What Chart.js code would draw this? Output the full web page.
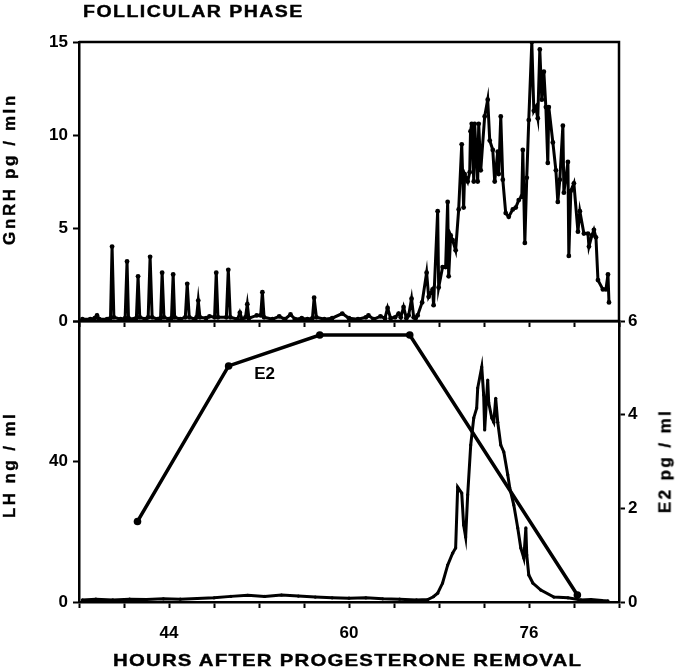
<!DOCTYPE html>
<html>
<head>
<meta charset="utf-8">
<title>Follicular phase</title>
<script src="https://cdn.jsdelivr.net/npm/chart.js@4"></script>
<style>
  body { margin: 0; background: #fff; }
  #wrap { position: relative; width: 680px; height: 670px; font-family: "Liberation Sans", Arial, sans-serif; font-weight: bold; color: #000; }
  canvas { position: absolute; left: 0; }
  .lbl { position: absolute; white-space: pre; line-height: 1; -webkit-text-stroke: 0.4px #000; }
  .rot { transform: translate(-50%, -50%) rotate(-90deg); }
</style>
</head>
<body>
<div id="wrap">
  <canvas id="topChart" width="680" height="340" style="top:0"></canvas>
  <canvas id="bottomChart" width="680" height="370" style="top:300px"></canvas>
  <div class="lbl" style="left:83px;top:4px;font-size:16px;letter-spacing:1.2px;transform:scaleX(1.22);transform-origin:left top">FOLLICULAR PHASE</div>
  <div class="lbl rot" style="left:9px;top:169px;font-size:17px;letter-spacing:2.6px">GnRH pg / mln</div>
  <div class="lbl rot" style="left:9px;top:465px;font-size:17px;letter-spacing:2.4px">LH ng / ml</div>
  <div class="lbl rot" style="left:665px;top:461px;font-size:17px;letter-spacing:2.4px">E2 pg / ml</div>
  <div class="lbl" style="left:113px;top:652px;font-size:17px;letter-spacing:1px;transform:scaleX(1.2);transform-origin:left top">HOURS AFTER PROGESTERONE REMOVAL</div>
</div>

<script>
// hours after progesterone removal
var gnrhHours = [
  36.3, 37.0, 37.4, 37.6, 37.8, 38.5, 38.8, 38.94, 39.1, 39.7,
  40.1, 40.27, 40.4, 40.9, 41.1, 41.25, 41.4, 41.9, 42.15, 42.32,
  42.5, 43.0, 43.25, 43.39, 43.55, 44.0, 44.22, 44.37, 44.5, 45.0,
  45.45, 45.62, 45.8, 46.3, 46.45, 46.6, 46.75, 47.3, 47.6, 48.05,
  48.2, 48.35, 49.1, 49.27, 49.45, 50.1, 50.3, 50.5, 50.8, 50.96,
  51.1, 51.8, 52.15, 52.3, 52.45, 53.2, 53.8, 54.3, 54.8, 55.2,
  55.8, 56.3, 56.75, 56.9, 57.1, 57.8, 58.5, 59.4, 60.0, 60.8,
  61.5, 61.73, 62.2, 62.8, 63.2, 63.43, 63.7, 64.1, 64.41, 64.6,
  64.85, 65.1, 65.3, 65.56, 65.75, 65.92, 66.1, 66.5, 66.9, 67.08,
  67.43, 67.52, 67.88, 67.97, 68.32, 68.59, 68.77, 68.86, 69.04, 69.21,
  69.48, 69.75, 70.02, 70.19, 70.28, 70.55, 70.73, 70.8, 70.91, 71.09,
  71.17, 71.44, 71.53, 71.71, 72.06, 72.33, 72.51, 72.78, 72.95, 73.22,
  73.31, 73.49, 73.67, 73.93, 74.2, 74.56, 74.82, 75.09, 75.36, 75.45,
  75.63, 75.8, 75.98, 76.25, 76.43, 76.6, 76.78, 76.96, 77.14, 77.32,
  77.5, 77.67, 77.76, 78.12, 78.39, 78.56, 78.74, 79.01, 79.1, 79.46,
  79.54, 79.72, 79.99, 80.35, 80.52, 80.88, 81.24, 81.33, 81.59, 81.77,
  81.95, 82.13, 82.57, 82.84, 83.02, 83.11
];
var gnrhValues = [
  0.1, 0.1, 0.15, 0.3, 0.1, 0.1, 0.15, 4.0, 0.2, 0.1,
  0.15, 3.2, 0.15, 0.1, 0.15, 2.4, 0.2, 0.1, 0.2, 3.45,
  0.2, 0.1, 0.15, 2.6, 0.2, 0.1, 0.15, 2.5, 0.2, 0.1,
  0.2, 2.0, 0.2, 0.1, 0.2, 1.1, 0.2, 0.15, 0.25, 0.2,
  2.6, 0.2, 0.2, 2.75, 0.2, 0.1, 0.45, 0.1, 0.2, 0.9,
  0.15, 0.3, 0.3, 1.55, 0.2, 0.1, 0.25, 0.1, 0.35, 0.1,
  0.15, 0.1, 0.15, 1.25, 0.2, 0.1, 0.15, 0.4, 0.15, 0.1,
  0.2, 0.3, 0.1, 0.25, 0.15, 0.7, 0.15, 0.2, 0.4, 0.2,
  0.75, 0.15, 0.3, 1.2, 0.2, 0.15, 0.3, 1.0, 2.6, 1.3,
  1.7, 0.85, 5.9, 1.8, 2.9, 2.9, 6.4, 2.4, 4.6, 4.35,
  3.8, 6.0, 9.5, 6.1, 7.9, 7.5, 8.0, 10.2, 10.6, 7.5,
  10.6, 7.5, 10.6, 8.1, 11.0, 11.9, 9.7, 9.2, 7.5, 9.1,
  7.9, 11.0, 7.6, 5.8, 5.6, 6.0, 6.1, 6.5, 6.7, 9.2,
  4.2, 7.7, 10.8, 15.0, 11.3, 11.5, 10.9, 14.6, 11.9, 13.4,
  11.5, 8.5, 11.5, 9.6, 8.1, 6.4, 7.6, 10.5, 6.9, 8.55,
  3.5, 7.0, 7.4, 4.8, 5.9, 4.7, 4.7, 4.0, 4.6, 4.9,
  4.5, 2.2, 1.7, 1.7, 2.5, 1.0
];

var lhHours = [
  36.3, 37.5, 39, 40.5, 42, 43.5, 45, 46.5, 48, 49.5,
  51, 52.5, 54, 55.5, 57, 58.5, 60, 61.5, 63, 64.5,
  66, 67.0, 67.5, 67.88, 68.32, 68.77, 69.21, 69.48, 69.66, 70.02,
  70.19, 70.37, 70.55, 70.82, 71.09, 71.35, 71.44, 71.8, 71.97, 72.06,
  72.33, 72.42, 72.69, 72.87, 73.04, 73.22, 73.49, 73.76, 74.11, 74.29,
  74.65, 75.0, 75.27, 75.54, 75.72, 75.8, 75.98, 76.34, 77.05, 78.21,
  79.46, 80.61, 81.5, 82.5, 83.02
];
var lhValues = [
  0.6, 0.8, 0.6, 0.8, 0.7, 0.9, 0.8, 1.0, 1.2, 1.6,
  1.9, 1.6, 2.0, 1.7, 1.4, 1.2, 1.1, 1.2, 0.9, 0.8,
  0.6, 0.7, 1.5, 2.5, 5.4, 10.5, 13.9, 15.4, 32.7, 31.0,
  21.9, 18.5, 30.5, 44.7, 52.4, 55.2, 60.9, 66.9, 58.9, 49.0,
  63.2, 56.7, 52.4, 51.2, 58.0, 51.2, 44.7, 42.7, 36.2, 32.5,
  27.6, 21.1, 15.4, 12.5, 21.1, 13.4, 7.7, 5.4, 3.4, 1.4,
  1.2, 0.6, 0.7, 0.4, 0.3
];

var e2Hours = [41.2, 49.3, 57.4, 65.4, 80.3];
var e2Values = [1.72, 5.04, 5.70, 5.70, 0.15];

var hourLabels = [44, 60, 76];

function pairs(xs, ys) {
  return xs.map(function(x, i) { return { x: x, y: ys[i] }; });
}

var tickFont = { family: 'Liberation Sans, Arial, sans-serif', size: 17, weight: 'bold' };

// draws the panel outline that the axes do not cover
var framePlugin = {
  id: 'frame',
  afterDraw: function(chart, args, opts) {
    var ctx = chart.ctx, a = chart.chartArea;
    ctx.save();
    ctx.strokeStyle = '#000';
    ctx.lineWidth = 2.5;
    ctx.beginPath();
    ctx.moveTo(a.left, a.top);
    ctx.lineTo(a.right, a.top);
    if (opts.right) ctx.lineTo(a.right, a.bottom);
    ctx.stroke();
    ctx.restore();
  }
};

var e2LabelPlugin = {
  id: 'e2Label',
  afterDatasetsDraw: function(chart) {
    var ctx = chart.ctx;
    var x = chart.scales.x.getPixelForValue(e2Hours[1]);
    var y = chart.scales.yE2.getPixelForValue(e2Values[1]);
    ctx.save();
    ctx.fillStyle = '#000';
    ctx.font = 'bold 17px "Liberation Sans", Arial, sans-serif';
    ctx.textAlign = 'center';
    ctx.textBaseline = 'middle';
    ctx.fillText('E2', x + 36, y + 8);
    ctx.restore();
  }
};

var blackGrid = { drawOnChartArea: false, tickLength: 6, tickColor: '#000', tickWidth: 2 };
var blackBorder = { color: '#000', width: 2.5 };

new Chart(document.getElementById('topChart'), {
  type: 'line',
  data: {
    datasets: [{
      label: 'GnRH',
      data: pairs(gnrhHours, gnrhValues),
      borderColor: '#000',
      borderWidth: 3,
      pointRadius: 2.4,
      pointBackgroundColor: '#000',
      pointBorderWidth: 0,
      tension: 0
    }]
  },
  options: {
    responsive: false,
    animation: false,
    devicePixelRatio: 1,
    layout: { padding: { top: 42, right: 61, left: 0, bottom: 0 } },
    plugins: { legend: { display: false }, tooltip: { enabled: false }, frame: { right: true } },
    scales: {
      x: {
        type: 'linear', min: 36, max: 84,
        ticks: { stepSize: 4, display: false },
        grid: blackGrid, border: blackBorder,
        afterFit: function(s) { s.height = 19; }
      },
      y: {
        min: 0, max: 15,
        ticks: { stepSize: 5, color: '#000', font: tickFont, padding: 5 },
        grid: blackGrid, border: blackBorder,
        afterFit: function(s) { s.width = 79; }
      }
    }
  },
  plugins: [framePlugin]
});

new Chart(document.getElementById('bottomChart'), {
  type: 'line',
  data: {
    datasets: [{
      label: 'LH',
      yAxisID: 'yLH',
      data: pairs(lhHours, lhValues),
      borderColor: '#000',
      borderWidth: 3,
      pointRadius: 1.6,
      pointBackgroundColor: '#000',
      pointBorderWidth: 0,
      tension: 0
    }, {
      label: 'E2',
      yAxisID: 'yE2',
      data: pairs(e2Hours, e2Values),
      borderColor: '#000',
      borderWidth: 3.5,
      pointRadius: 3.8,
      pointBackgroundColor: '#000',
      pointBorderWidth: 0,
      tension: 0
    }]
  },
  options: {
    responsive: false,
    animation: false,
    devicePixelRatio: 1,
    layout: { padding: { top: 21, right: 0, left: 0, bottom: 0 } },
    plugins: { legend: { display: false }, tooltip: { enabled: false }, frame: { right: false } },
    scales: {
      x: {
        type: 'linear', min: 36, max: 84,
        ticks: {
          stepSize: 4, autoSkip: false, maxRotation: 0, color: '#000', font: tickFont, padding: 15,
          callback: function(v) { return hourLabels.indexOf(v) >= 0 ? String(v) : ''; }
        },
        grid: blackGrid, border: blackBorder,
        afterFit: function(s) { s.height = 68; }
      },
      yLH: {
        position: 'left', min: 0, max: 80,
        ticks: {
          stepSize: 40, color: '#000', font: tickFont, padding: 5,
          callback: function(v) { return v === 80 ? '' : String(v); }
        },
        grid: blackGrid, border: blackBorder,
        afterFit: function(s) { s.width = 79; }
      },
      yE2: {
        position: 'right', min: 0, max: 6,
        ticks: { stepSize: 2, color: '#000', font: tickFont, padding: 3 },
        grid: blackGrid, border: blackBorder,
        afterFit: function(s) { s.width = 61; }
      }
    }
  },
  plugins: [framePlugin, e2LabelPlugin]
});
</script>
</body>
</html>
